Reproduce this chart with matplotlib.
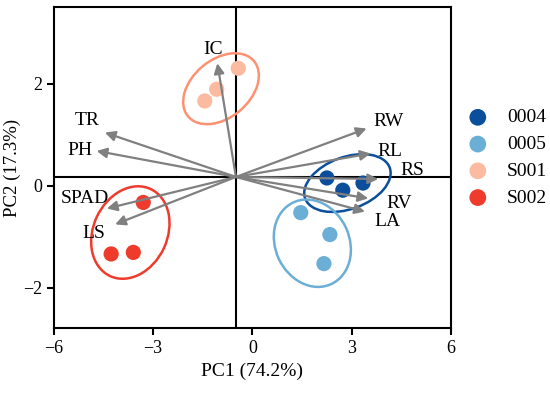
import matplotlib.pyplot as plt
from matplotlib.patches import Ellipse
from matplotlib.transforms import ScaledTranslation

plt.rcParams['font.family'] = ['Liberation Serif', 'DejaVu Serif']

groups = ['0004', '0005', 'S001', 'S002']
colors = ['#0b4f9c', '#6baed6', '#fcbba1', '#ef3b2c']
edge_colors = ['#0b4f9c', '#6baed6', '#fc9272', '#ef3b2c']

pc1 = [[2.25, 2.73, 3.34],
       [1.46, 2.34, 2.16],
       [-1.44, -1.08, -0.43],
       [-3.30, -3.60, -4.27]]
pc2 = [[0.15, -0.09, 0.05],
       [-0.53, -0.96, -1.53],
       [1.66, 1.89, 2.30],
       [-0.33, -1.31, -1.34]]

# ellipse centres (data), semi axes in pixels, angle in degrees
ell_cx = [2.87, 1.81, -0.95, -3.69]
ell_cy = [0.05, -1.13, 1.90, -0.92]
ell_a = [45, 45, 43, 48]
ell_b = [26, 37, 29, 37]
ell_ang = [20, -65, 40, 65]

variables = ['IC', 'TR', 'PH', 'SPAD', 'LS', 'RW', 'RL', 'RS', 'RV', 'LA']
load_x = [-1.06, -4.46, -4.71, -4.40, -4.15, 3.45, 3.57, 3.80, 3.50, 3.40]
load_y = [2.40, 1.04, 0.68, -0.45, -0.76, 1.12, 0.63, 0.13, -0.25, -0.51]
lab_x = [-1.19, -5.0, -5.2, -5.06, -4.78, 4.10, 4.15, 4.83, 4.43, 4.07]
lab_y = [2.66, 1.28, 0.68, -0.25, -0.94, 1.25, 0.66, 0.30, -0.35, -0.71]
origin = (-0.5, 0.17)

fig = plt.figure(figsize=(5.5, 3.96), dpi=100)
ax = fig.add_axes([0.098, 0.172, 0.722, 0.81])

ax.axvline(origin[0], color='black', lw=1.5, zorder=1)
ax.axhline(origin[1], color='black', lw=1.5, zorder=1)

for i, g in enumerate(groups):
    ax.scatter(pc1[i], pc2[i], s=120, color=colors[i], edgecolors='none', zorder=3, label=g)
    tr = fig.dpi_scale_trans + ScaledTranslation(ell_cx[i], ell_cy[i], ax.transData)
    e = Ellipse((0, 0), 2 * ell_a[i] / 100, 2 * ell_b[i] / 100, angle=ell_ang[i],
                transform=tr, fill=False, edgecolor=edge_colors[i], lw=1.8, zorder=4)
    ax.add_patch(e)

for i, v in enumerate(variables):
    ax.annotate('', xy=(load_x[i], load_y[i]), xytext=origin,
                arrowprops=dict(arrowstyle='-|>,head_length=0.6,head_width=0.3',
                                color='#808080', lw=1.6, shrinkA=0, shrinkB=0),
                zorder=5)
    ax.text(lab_x[i], lab_y[i], v, fontsize=14, ha='center', va='center', zorder=6)

ax.set_xlim(-6, 6)
ax.set_ylim(-2.79, 3.5)
ax.set_xticks([-6, -3, 0, 3, 6])
ax.set_yticks([-2, 0, 2])
ax.tick_params(labelsize=13, width=1.5, length=5, direction='out')
for s in ax.spines.values():
    s.set_linewidth(1.5)
ax.set_xlabel('PC1 (74.2%)', fontsize=14, labelpad=4)
ax.set_ylabel('PC2 (17.3%)', fontsize=13.5, labelpad=1.5)

ax.legend(loc='upper left', bbox_to_anchor=(1.043, 0.683), frameon=False, fontsize=14,
          handlelength=1.0, handletextpad=1.0, labelspacing=0.47, borderpad=0,
          borderaxespad=0, markerscale=1.1)

fig.savefig('out.png', dpi=100)
